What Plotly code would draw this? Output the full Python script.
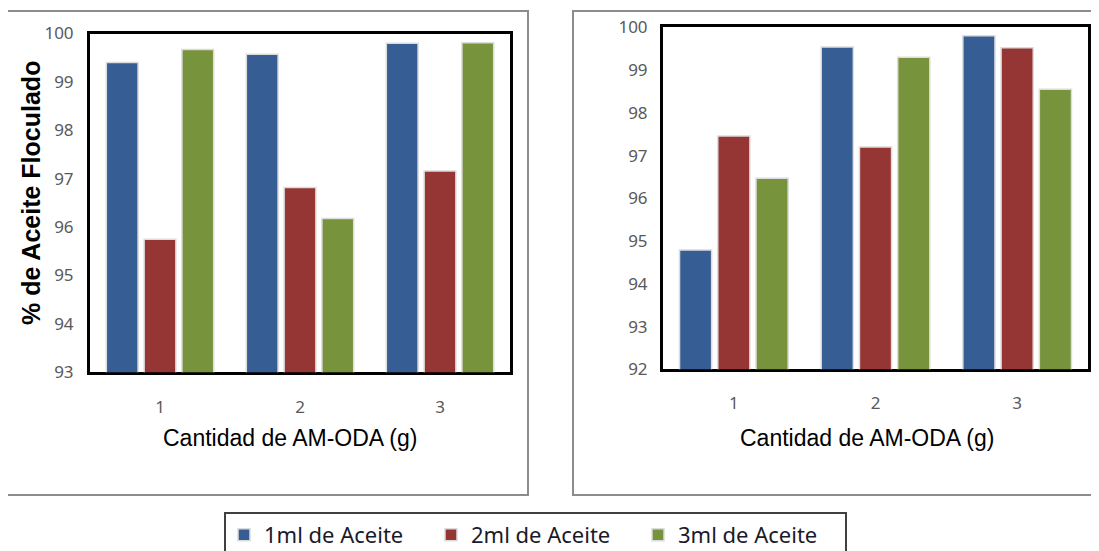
import plotly.graph_objects as go

categories = ["1", "2", "3"]
series_names = ["1ml de Aceite", "2ml de Aceite", "3ml de Aceite"]
colors = ["#375E94", "#963634", "#77933C"]

left_values = [
    [99.40, 99.57, 99.80],   # 1ml
    [95.75, 96.82, 97.16],   # 2ml
    [99.67, 96.18, 99.81],   # 3ml
]
right_values = [
    [94.79, 99.54, 99.80],
    [97.46, 97.20, 99.52],
    [96.47, 99.30, 98.55],
]
left_yticks = [93, 94, 95, 96, 97, 98, 99, 100]
right_yticks = [92, 93, 94, 95, 96, 97, 98, 99, 100]

W, H = 1099, 551
OFF = 8  # page body margin


def fx(X):
    return (X - OFF) / W


def fy(Y):
    return 1 - (Y - OFF) / H


fig = go.Figure()

for i in range(3):
    fig.add_trace(go.Bar(
        x=categories, y=left_values[i], name=series_names[i],
        marker=dict(color=colors[i], line=dict(color="#dcdcdc", width=1.5)),
        xaxis="x", yaxis="y", showlegend=True, legendgroup=series_names[i],
    ))
for i in range(3):
    fig.add_trace(go.Bar(
        x=categories, y=right_values[i], name=series_names[i],
        marker=dict(color=colors[i], line=dict(color="#dcdcdc", width=1.5)),
        xaxis="x2", yaxis="y2", showlegend=False, legendgroup=series_names[i],
    ))

tickfont = dict(family="Noto Sans", size=17, color="#595959")
frame = dict(showline=True, linecolor="black", linewidth=3, mirror=True, layer="below traces")

fig.update_layout(
    width=W, height=H,
    margin=dict(l=0, r=0, t=0, b=0, autoexpand=False),
    paper_bgcolor="white", plot_bgcolor="white",
    barmode="group", bargap=0.19, bargroupgap=0.16,
    xaxis=dict(domain=[fx(90), fx(510)], anchor="y", tickfont=tickfont,
               ticks="outside", ticklen=17, tickcolor="rgba(0,0,0,0)", showgrid=False, **frame),
    yaxis=dict(domain=[fy(372.3), fy(33.5)], anchor="x", range=[93, 100],
               tickvals=left_yticks, tickfont=tickfont, showgrid=False,
               ticks="outside", ticklen=10, tickcolor="rgba(0,0,0,0)", **frame),
    xaxis2=dict(domain=[fx(663), fx(1088)], anchor="y2", tickfont=tickfont,
                ticks="outside", ticklen=16, tickcolor="rgba(0,0,0,0)", showgrid=False, **frame),
    yaxis2=dict(domain=[fy(369.3), fy(27.3)], anchor="x2", range=[92, 100],
                tickvals=right_yticks, tickfont=tickfont, showgrid=False,
                ticks="outside", ticklen=9, tickcolor="rgba(0,0,0,0)", **frame),
    legend=dict(orientation="h", x=fx(224), y=fy(512), xanchor="left", yanchor="top",
                bordercolor="#404040", borderwidth=2, bgcolor="white",
                font=dict(family="Noto Sans", size=22, color="#1a1a2a"),
                entrywidth=162, entrywidthmode="pixels"),
    shapes=[
        dict(type="rect", xref="paper", yref="paper", x0=fx(7), x1=fx(528),
             y0=fy(495), y1=fy(11), line=dict(color="#8c8c8c", width=2), layer="below"),
        dict(type="rect", xref="paper", yref="paper", x0=fx(573), x1=fx(1098),
             y0=fy(495), y1=fy(11), line=dict(color="#8c8c8c", width=2), layer="below"),
    ],
    annotations=[
        dict(text="<b>% de Aceite Floculado</b>", xref="paper", yref="paper",
             x=fx(31), y=fy(193), textangle=-90, showarrow=False,
             font=dict(family="Liberation Sans", size=25, color="black"),
             xanchor="center", yanchor="middle"),
        dict(text="Cantidad de AM-ODA (g)", xref="paper", yref="paper",
             x=fx(290), y=fy(438), showarrow=False,
             font=dict(family="Liberation Sans", size=23, color="black"),
             xanchor="center", yanchor="middle"),
        dict(text="Cantidad de AM-ODA (g)", xref="paper", yref="paper",
             x=fx(867), y=fy(438), showarrow=False,
             font=dict(family="Liberation Sans", size=23, color="black"),
             xanchor="center", yanchor="middle"),
    ],
)

fig.write_html("out.html")
